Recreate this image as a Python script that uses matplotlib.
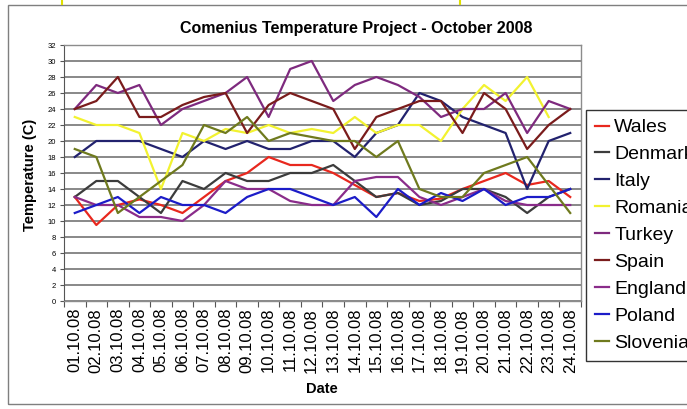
import matplotlib.pyplot as plt
import numpy as np
from matplotlib.patches import Rectangle
from matplotlib.lines import Line2D

plt.rcParams['font.family'] = ['Liberation Sans', 'DejaVu Sans']

# October 2008 daily temperatures (C)
dates = ['01.10.08', '02.10.08', '03.10.08', '04.10.08', '05.10.08', '06.10.08',
         '07.10.08', '08.10.08', '09.10.08', '10.10.08', '11.10.08', '12.10.08',
         '13.10.08', '14.10.08', '15.10.08', '16.10.08', '17.10.08', '18.10.08',
         '19.10.08', '20.10.08', '21.10.08', '22.10.08', '23.10.08', '24.10.08']

wales = [13, 9.5, 12, 12.7, 12, 11, 13, 15, 16, 18, 17, 17,
         16, 14.5, 13, 13.5, 12.5, 12.8, 14, 15, 16, 14.5, 15, 13]
denmark = [13, 15, 15, 13, 11, 15, 14, 16, 15, 15, 16, 16,
           17, 15, 13, 13.5, 12, 12.5, 14, 14, 13, 11, 13, 14]
italy = [18, 20, 20, 20, 19, 18, 20, 19, 20, 19, 19, 20,
         20, 18, 21, 22, 26, 25, 23, 22, 21, 14, 20, 21]
romania = [23, 22, 22, 21, 14, 21, 20, 21.5, 21, 22, 21, 21.5,
           21, 23, 21, 22, 22, 20, 24, 27, 25, 28, 23, np.nan]
turkey = [24, 27, 26, 27, 22, 24, 25, 26, 28, 23, 29, 30,
          25, 27, 28, 27, 25.5, 23, 24, 24, 26, 21, 25, 24]
spain = [24, 25, 28, 23, 23, 24.5, 25.5, 26, 21, 24.5, 26, 25,
         24, 19, 23, 24, 25, 25, 21, 26, 24, 19, 22, 24]
england = [13, 12, 12, 10.5, 10.5, 10, 12, 15, 14, 14, 12.5, 12,
           12, 15, 15.5, 15.5, 13, 12, 13, 14, 12.5, 12, 12, 12]
poland = [11, 12, 13, 11, 13, 12, 12, 11, 13, 14, 14, 13,
          12, 13, 10.5, 14, 12, 13.5, 12.5, 14, 12, 13, 13, 14]
slovenia = [19, 18, 11, 13, 15, 17, 22, 21, 23, 20, 21, 20.5,
            20, 20, 18, 20, 14, 13, 13, 16, 17, 18, 14.5, 11]

series = [
    ('Wales', wales, '#e8281e'),
    ('Denmark', denmark, '#3c3c3c'),
    ('Italy', italy, '#22226e'),
    ('Romania', romania, '#f2f230'),
    ('Turkey', turkey, '#7e2a7e'),
    ('Spain', spain, '#7a1c1c'),
    ('England', england, '#8a2c8a'),
    ('Poland', poland, '#1c1cc8'),
    ('Slovenia', slovenia, '#6f7a1e'),
]

W, H = 687, 409
fig = plt.figure(figsize=(W / 100, H / 100), dpi=100)
ax = fig.add_axes([64 / W, 1 - 301 / H, 517 / W, 256 / H])

x = np.arange(len(dates))
for name, vals, col in series:
    ax.plot(x, vals, color=col, lw=1.6, label=name)

ax.set_xlim(-0.5, len(dates) - 0.5)
ax.set_ylim(0, 32)
ax.set_yticks(range(0, 33, 2))
ax.tick_params(axis='y', labelsize=5.5, length=3, width=0.8, color='#555555', pad=3)
ax.yaxis.grid(True, color='#7f7f7f', lw=1.3)
ax.set_axisbelow(True)

ax.set_xticks(x)
ax.set_xticklabels(dates, rotation=90, fontsize=12)
ax.tick_params(axis='x', which='major', length=0, pad=5)
ax.set_xticks(np.arange(-0.5, len(dates), 1), minor=True)
ax.tick_params(axis='x', which='minor', length=4, width=0.8, color='#555555')

for s in ['top', 'right', 'bottom']:
    ax.spines[s].set_color('#8c8c8c')
    ax.spines[s].set_linewidth(1)
ax.spines['left'].set_color('#555555')

# legend runs off the right edge, as in the original screenshot
ax.legend(loc='upper left', bbox_to_anchor=(586 / W, 1 - 110 / H),
          bbox_transform=fig.transFigure, fontsize=14, frameon=True,
          fancybox=False, edgecolor='#333333', framealpha=1,
          borderaxespad=0, borderpad=0.45, handlelength=0.75,
          handletextpad=0.25, labelspacing=0.48)

fig.text(356 / W, 1 - 28 / H, 'Comenius Temperature Project - October 2008',
         ha='center', va='center', fontsize=11.5, fontweight='bold')
fig.text(30 / W, 1 - 175 / H, 'Temperature (C)', ha='center', va='center',
         rotation=90, fontsize=10.5, fontweight='bold')
fig.text(322 / W, 1 - 389 / H, 'Date', ha='center', va='center',
         fontsize=10.5, fontweight='bold')

# chart area border and the two small yellow marks at the top edge
fig.patches.append(Rectangle((8 / W, 1 - 404 / H), 700 / W, 399 / H,
                             transform=fig.transFigure, fill=False,
                             edgecolor='#7f7f7f', lw=1))
for px in [62, 460]:
    fig.add_artist(Line2D([px / W, px / W], [1, 1 - 4 / H], color='#e0e000', lw=1.5))

fig.savefig('out.png', dpi=100)
